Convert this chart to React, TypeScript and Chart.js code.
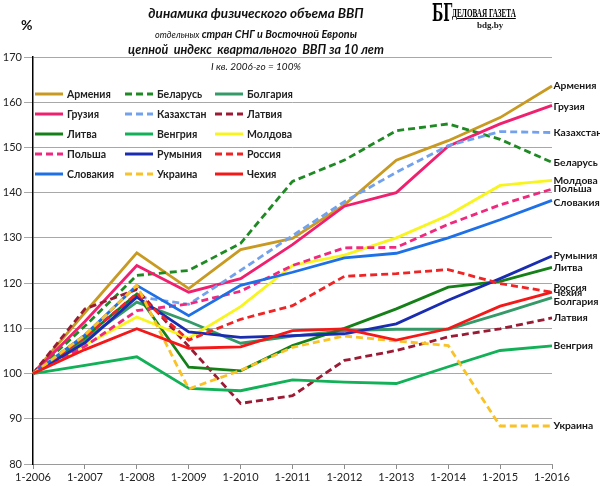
import React, { useEffect, useRef } from "react";
import { Chart, registerables } from "chart.js";

Chart.register(...registerables);

const categories = ["1-2006", "1-2007", "1-2008", "1-2009", "1-2010", "1-2011", "1-2012", "1-2013", "1-2014", "1-2015", "1-2016"];

const armenia = [100, 113.5, 126.7, 118.8, 127.4, 129.9, 137.3, 147.2, 151.5, 156.6, 163.6];
const belarus = [100, 110.5, 121.7, 122.8, 128.8, 142.5, 147.2, 153.7, 155.2, 151.8, 146.7];
const bulgaria = [100, 107.5, 115.8, 111.5, 106.7, 108.3, 109.5, 109.8, 109.8, 113.2, 116.8];
const georgia = [100, 111.5, 123.9, 118.0, 121.0, 128.5, 137.0, 140.0, 150.3, 155.2, 159.3];
const kazakhstan = [100, 108.5, 117.0, 115.3, 122.8, 130.5, 138.0, 144.5, 150.4, 153.5, 153.3];
const latvia = [100, 114.3, 118.6, 106.0, 93.4, 95.1, 102.9, 105.1, 108.1, 109.9, 112.3];
const lithuania = [100, 108.0, 117.6, 101.4, 100.6, 106.2, 110.0, 114.3, 119.1, 120.4, 123.5];
const hungary = [100, 101.8, 103.7, 96.7, 96.2, 98.6, 98.1, 97.8, 101.5, 105.1, 106.1];
const moldova = [100, 106.3, 112.5, 107.8, 114.8, 123.9, 126.2, 130.0, 135.0, 141.6, 142.7];
const poland = [100, 106.0, 113.9, 115.4, 118.2, 123.9, 127.8, 127.9, 133.0, 137.3, 140.8];
const romania = [100, 106.8, 116.9, 109.2, 108.0, 108.4, 108.8, 111.0, 116.2, 121.0, 126.0];
const russia = [100, 108.0, 117.7, 107.4, 112.0, 115.0, 121.5, 122.1, 123.0, 119.9, 118.0];
const slovakia = [100, 108.5, 119.5, 112.8, 119.5, 122.4, 125.6, 126.6, 130.0, 134.0, 138.3];
const ukraine = [100, 108.5, 119.5, 96.6, 100.7, 105.8, 108.3, 107.2, 106.2, 88.4, 88.4];
const czech = [100, 105.3, 109.9, 105.6, 105.9, 109.5, 109.9, 107.4, 109.9, 114.9, 118.0];

const yMin = 80;
const yMax = 170;
const yStep = 10;

const FONT = "Lato, 'Open Sans', 'Liberation Sans', sans-serif";

export default function App() {
  const ref = useRef<HTMLCanvasElement>(null);

  useEffect(() => {
    if (!ref.current) return;
    const DASH = [7, 4];
    const series = [
      { name: "Армения", data: armenia, color: "#C99A22", dash: [] as number[] },
      { name: "Беларусь", data: belarus, color: "#1F8A24", dash: DASH },
      { name: "Болгария", data: bulgaria, color: "#349A68", dash: [] },
      { name: "Грузия", data: georgia, color: "#F0206E", dash: [] },
      { name: "Казахстан", data: kazakhstan, color: "#72A2EE", dash: DASH },
      { name: "Латвия", data: latvia, color: "#9A1B33", dash: DASH },
      { name: "Литва", data: lithuania, color: "#168018", dash: [] },
      { name: "Венгрия", data: hungary, color: "#12B057", dash: [] },
      { name: "Молдова", data: moldova, color: "#F8F41E", dash: [] },
      { name: "Польша", data: poland, color: "#F0287E", dash: DASH },
      { name: "Румыния", data: romania, color: "#1A2DB0", dash: [] },
      { name: "Россия", data: russia, color: "#F02424", dash: DASH },
      { name: "Словакия", data: slovakia, color: "#1E70E6", dash: [] },
      { name: "Украина", data: ukraine, color: "#F8C228", dash: DASH },
      { name: "Чехия", data: czech, color: "#F51818", dash: [] },
    ];

    const labelOffsets: Record<string, number> = {
      "Россия": -4.5,
      "Чехия": 1,
      "Болгария": 4,
      "Словакия": 2,
      "Грузия": 1,
    };

    const overlay = {
      id: "overlay",
      afterDraw(chart: any) {
        const ctx = chart.ctx as CanvasRenderingContext2D;
        const area = chart.chartArea;
        ctx.save();
        ctx.textBaseline = "middle";
        ctx.textAlign = "left";
        // end labels
        ctx.font = `bold 10.3px ${FONT}`;
        ctx.fillStyle = "#161616";
        chart.data.datasets.forEach((ds: any, i: number) => {
          const meta = chart.getDatasetMeta(i);
          const p = meta.data[meta.data.length - 1];
          ctx.fillText(ds.label, area.right + 1.5, p.y + (labelOffsets[ds.label] || 0));
        });
        // legend
        const colX = [35, 125, 215];
        chart.data.datasets.forEach((ds: any, i: number) => {
          const col = i % 3;
          const row = Math.floor(i / 3);
          const x = colX[col];
          const y = 94 + row * 20;
          ctx.beginPath();
          ctx.setLineDash(ds.borderDash || []);
          ctx.lineWidth = 3;
          ctx.strokeStyle = ds.borderColor;
          ctx.moveTo(x, y);
          ctx.lineTo(x + 28, y);
          ctx.stroke();
          ctx.setLineDash([]);
          ctx.font = `bold 10.5px ${FONT}`;
          ctx.fillStyle = "#222";
          ctx.fillText(ds.label, x + 32, y + 0.5);
        });
        ctx.restore();
      },
    };

    const chart = new Chart(ref.current, {
      type: "line",
      data: {
        labels: categories,
        datasets: series.map((s, i) => ({
          label: s.name,
          data: s.data,
          borderColor: s.color,
          backgroundColor: s.color,
          borderDash: s.dash,
          borderWidth: 2.8,
          pointRadius: 0,
          tension: 0,
          fill: false,
          order: series.length - i,
        })),
      },
      options: {
        animation: false,
        responsive: false,
        devicePixelRatio: 1,
        layout: { padding: { left: 0, right: 48, top: 57, bottom: 0 } },
        plugins: {
          legend: { display: false },
          tooltip: { enabled: false },
          title: { display: false },
        },
        scales: {
          x: {
            type: "category",
            offset: false,
            afterFit: (s: any) => {
              s.height = 22;
            },
            grid: {
              display: true,
              drawOnChartArea: false,
              drawTicks: true,
              tickLength: 5,
              tickColor: "#8c8c8c",
            },
            border: { display: true, color: "#9a9a9a", width: 1 },
            ticks: {
              autoSkip: false,
              maxRotation: 0,
              minRotation: 0,
              padding: 2,
              color: "#222",
              font: { family: FONT, size: 11 },
            },
          },
          y: {
            min: yMin,
            max: yMax,
            afterFit: (s: any) => {
              s.width = 33;
            },
            grid: {
              color: "#a8a8a8",
              lineWidth: 1,
              drawTicks: true,
              tickLength: 9,
              tickColor: "#a8a8a8",
            },
            border: { display: true, color: "#000", width: 1.5 },
            ticks: {
              stepSize: yStep,
              padding: 2,
              color: "#222",
              font: { family: FONT, size: 11 },
            },
          },
        },
      },
      plugins: [overlay],
    } as any);

    return () => chart.destroy();
  }, []);

  const bi: React.CSSProperties = { fontFamily: FONT, fontWeight: 700, fontStyle: "italic", color: "#111", whiteSpace: "nowrap" };

  return (
    <div style={{ position: "absolute", left: 0, top: 0, width: 600, height: 486, background: "#fff", overflow: "hidden" }}>
      <canvas ref={ref} width={600} height={486} style={{ position: "absolute", left: 0, top: 0, width: 600, height: 486 }} />
      <div style={{ position: "absolute", left: 21, top: 16, fontFamily: FONT, fontWeight: 700, fontSize: 14, color: "#111" }}>%</div>
      <div style={{ position: "absolute", left: 0, width: 512, top: 5, textAlign: "center", ...bi, fontSize: 13.5, lineHeight: "17px" }}>
        динамика физического объема ВВП
      </div>
      <div style={{ position: "absolute", left: 0, width: 512, top: 25, textAlign: "center", ...bi, fontSize: 10.8, lineHeight: "17px" }}>
        <span style={{ fontWeight: 400, fontSize: 9 }}>отдельных </span>стран СНГ и Восточной Европы
      </div>
      <div style={{ position: "absolute", left: 0, width: 512, top: 41, textAlign: "center", ...bi, fontSize: 12.5, lineHeight: "17px" }}>
        цепной&nbsp; индекс&nbsp; квартального&nbsp; ВВП за 10 лет
      </div>
      <div style={{ position: "absolute", left: 0, width: 512, top: 59, textAlign: "center", fontFamily: FONT, fontStyle: "italic", fontSize: 10, lineHeight: "14px", color: "#111" }}>
        I кв. 2006-го = 100%
      </div>
      <div style={{ position: "absolute", left: 432, top: 0, fontFamily: "'DejaVu Serif', 'Liberation Serif', serif", fontWeight: 900, fontSize: 24, lineHeight: "26px", color: "#000", transform: "scaleX(0.55)", transformOrigin: "left top" }}>
        БГ
      </div>
      <div style={{ position: "absolute", left: 452, top: 6, fontFamily: "'Liberation Serif', serif", fontWeight: 700, fontSize: 13, lineHeight: "14px", color: "#000", textDecoration: "underline", transform: "scaleX(0.55)", transformOrigin: "left top", whiteSpace: "nowrap" }}>
        ДЕЛОВАЯ ГАЗЕТА
      </div>
      <div style={{ position: "absolute", left: 477, top: 20, fontFamily: "'Liberation Serif', serif", fontWeight: 700, fontSize: 9, lineHeight: "10px", color: "#222" }}>
        bdg.by
      </div>
    </div>
  );
}
